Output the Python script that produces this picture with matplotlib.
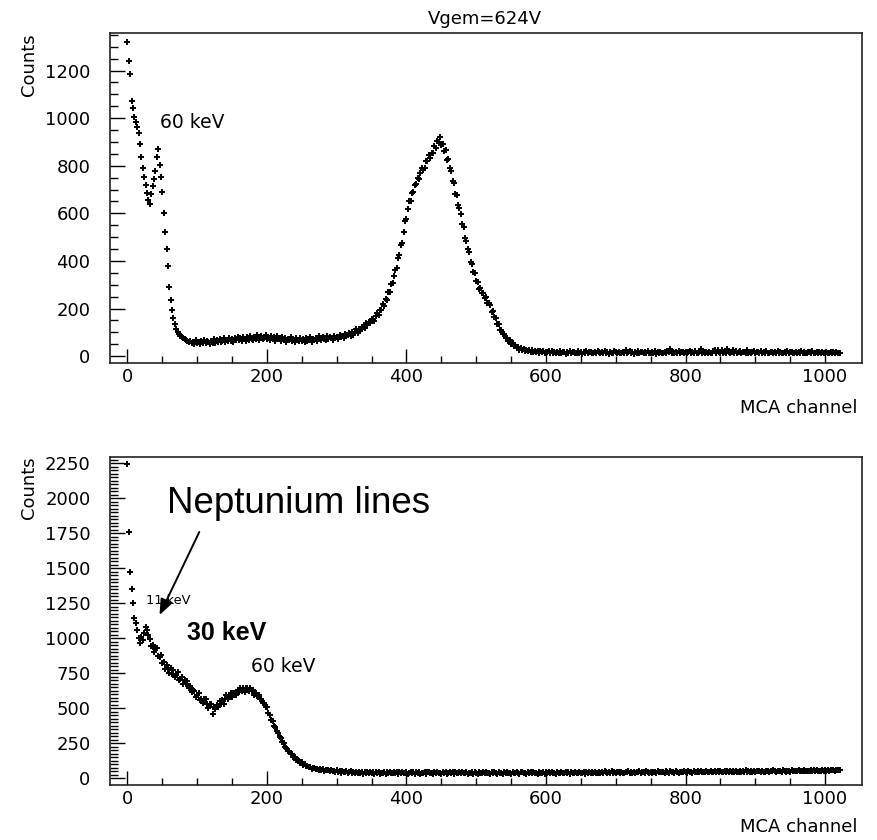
import numpy as np
import matplotlib
matplotlib.use("Agg")
import matplotlib.pyplot as plt
from matplotlib.ticker import FixedLocator

# MCA channel of each plotted bin (every second channel)
channels = np.arange(0, 1024, 2)

# Top panel (Vgem=624V) counts
top_counts = [
    1322, 1242, 1186, 1072, 1041, 1006, 985, 962, 936, 890, 835, 790, 752, 718, 685, 655,
    640, 680, 715, 745, 780, 838, 869, 803, 754, 690, 601, 520, 450, 380, 290, 236,
    193, 160, 135, 112, 100, 92, 86, 80, 74, 70, 66, 62, 58, 64, 55, 60,
    52, 66, 54, 61, 50, 63, 57, 68, 53, 62, 58, 49, 65, 56, 70, 54,
    66, 58, 72, 60, 64, 75, 59, 69, 62, 78, 64, 70, 58, 74, 67, 80,
    66, 76, 62, 82, 70, 64, 79, 68, 85, 71, 66, 80, 73, 88, 69, 77,
    83, 70, 78, 90, 72, 81, 67, 86, 74, 79, 65, 84, 71, 77, 62, 80,
    68, 76, 60, 73, 66, 81, 63, 70, 58, 75, 67, 62, 78, 64, 71, 59,
    74, 63, 69, 80, 61, 72, 67, 78, 64, 83, 70, 66, 79, 73, 68, 85,
    71, 80, 74, 69, 86, 77, 82, 72, 90, 79, 85, 76, 93, 84, 89, 98,
    86, 101, 90, 102, 112, 98, 115, 104, 124, 124, 119, 139, 129, 144, 139, 154,
    156, 148, 167, 180, 172, 195, 192, 220, 212, 239, 236, 268, 270, 303, 307, 337,
    360, 370, 414, 423, 468, 475, 523, 567, 575, 620, 652, 652, 686, 688, 720, 722,
    748, 743, 771, 790, 784, 789, 822, 818, 846, 834, 855, 852, 884, 876, 903, 900,
    922, 888, 893, 864, 865, 823, 830, 791, 780, 736, 726, 682, 678, 634, 621, 598,
    556, 544, 498, 485, 451, 439, 395, 388, 355, 348, 316, 310, 284, 287, 265, 266,
    245, 248, 223, 222, 214, 187, 188, 163, 162, 135, 133, 109, 111, 91, 91, 75,
    77, 62, 66, 50, 53, 41, 46, 34, 38, 27, 32, 24, 30, 22, 26, 21,
    26, 18, 24, 17, 22, 16, 23, 15, 20, 18, 22, 14, 19, 16, 21, 13,
    20, 13, 17, 11, 19, 15, 22, 12, 16, 18, 10, 17, 14, 21, 12, 16,
    19, 11, 15, 20, 13, 17, 10, 18, 14, 22, 12, 16, 19, 11, 15, 18,
    13, 20, 16, 11, 18, 14, 21, 12, 17, 10, 19, 15, 13, 20, 16, 12,
    18, 14, 11, 19, 15, 26, 12, 17, 20, 13, 16, 10, 18, 14, 21, 12,
    16, 19, 13, 17, 11, 20, 15, 12, 18, 14, 21, 10, 17, 15, 19, 13,
    15, 18, 12, 20, 16, 28, 13, 17, 11, 19, 14, 22, 12, 16, 18, 13,
    19, 12, 16, 21, 14, 17, 11, 20, 15, 13, 18, 30, 12, 17, 14, 19,
    13, 18, 15, 11, 20, 24, 14, 27, 16, 12, 25, 15, 19, 13, 29, 16,
    12, 18, 26, 14, 20, 11, 17, 22, 13, 16, 19, 12, 24, 15, 18, 11,
    17, 21, 13, 16, 19, 12, 22, 14, 18, 11, 20, 15, 13, 19, 16, 12,
    18, 14, 20, 12, 17, 15, 11, 19, 14, 21, 13, 16, 18, 12, 15, 19,
    13, 17, 15, 20, 12, 18, 14, 11, 19, 16, 13, 21, 15, 12, 17, 14,
    16, 12, 18, 14, 11, 17, 15, 13, 19, 12, 16, 14, 18, 11, 15, 13,
]

# Bottom panel counts
bottom_counts = [
    2243, 1761, 1471, 1350, 1250, 1147, 1107, 1059, 1000, 964, 1011, 985, 1040, 1078, 1060, 1022,
    995, 945, 950, 905, 925, 930, 875, 865, 880, 820, 830, 780, 810, 783, 752, 787,
    742, 770, 720, 740, 758, 705, 712, 725, 673, 700, 675, 695, 645, 658, 616, 629,
    627, 582, 597, 608, 560, 567, 535, 563, 566, 529, 502, 530, 534, 459, 512, 497,
    525, 507, 550, 533, 561, 534, 567, 595, 567, 584, 610, 581, 612, 612, 592, 632,
    617, 642, 621, 645, 618, 648, 645, 623, 646, 620, 630, 592, 609, 585, 593, 569,
    567, 538, 540, 510, 507, 467, 453, 419, 410, 375, 366, 336, 325, 294, 286, 259,
    250, 220, 215, 192, 198, 172, 172, 152, 155, 130, 133, 122, 106, 113, 95, 99,
    85, 91, 78, 83, 69, 76, 77, 63, 69, 60, 68, 57, 64, 52, 59, 60,
    60, 50, 59, 49, 53, 44, 56, 46, 51, 41, 52, 42, 46, 49, 40, 46,
    50, 40, 48, 38, 47, 36, 46, 40, 44, 34, 46, 38, 43, 35, 45, 37,
    44, 33, 42, 38, 46, 34, 41, 37, 45, 32, 43, 39, 47, 35, 40, 44,
    36, 45, 33, 42, 38, 47, 35, 41, 44, 32, 40, 46, 37, 43, 34, 42,
    39, 46, 33, 41, 37, 44, 32, 42, 47, 36, 40, 34, 45, 38, 43, 35,
    41, 34, 46, 38, 43, 32, 40, 45, 36, 42, 33, 47, 39, 35, 44, 37,
    42, 35, 40, 46, 33, 41, 37, 44, 34, 43, 39, 32, 45, 38, 36, 42,
    35, 44, 38, 41, 33, 46, 36, 42, 39, 34, 45, 37, 40, 33, 43, 38,
    44, 36, 41, 34, 47, 38, 35, 43, 39, 32, 42, 46, 37, 40, 34, 45,
    38, 42, 35, 46, 37, 41, 33, 44, 39, 36, 48, 34, 42, 38, 45, 36,
    43, 37, 40, 34, 46, 39, 36, 44, 41, 35, 47, 38, 42, 33, 45, 40,
    37, 44, 39, 35, 48, 41, 38, 45, 34, 43, 40, 47, 36, 42, 39, 46,
    41, 36, 47, 40, 44, 38, 49, 42, 37, 45, 40, 50, 39, 43, 36, 46,
    43, 38, 48, 41, 37, 46, 42, 50, 39, 44, 40, 47, 36, 45, 42, 49,
    40, 47, 43, 38, 51, 44, 41, 46, 39, 48, 43, 37, 50, 45, 42, 47,
    44, 40, 49, 45, 38, 52, 43, 47, 41, 50, 44, 39, 48, 46, 42, 51,
    45, 41, 50, 44, 48, 40, 53, 46, 43, 49, 45, 52, 42, 47, 44, 50,
    46, 42, 51, 47, 44, 53, 45, 49, 43, 52, 46, 48, 55, 44, 50, 47,
    52, 45, 49, 44, 54, 48, 46, 51, 43, 50, 47, 56, 45, 52, 48, 50,
    47, 53, 45, 51, 49, 55, 46, 52, 48, 44, 54, 50, 47, 53, 49, 56,
    50, 46, 55, 49, 52, 47, 57, 51, 48, 54, 50, 46, 56, 52, 49, 55,
    51, 57, 49, 54, 52, 58, 50, 55, 53, 49, 59, 52, 56, 50, 58, 54,
    55, 51, 59, 53, 57, 54, 60, 52, 58, 56, 61, 54, 59, 57, 62, 58,
]

x_ticks = [0, 200, 400, 600, 800, 1000]
top_y_ticks = [0, 200, 400, 600, 800, 1000, 1200]
bottom_y_ticks = [0, 250, 500, 750, 1000, 1250, 1500, 1750, 2000, 2250]

W, H = 878, 840
fig = plt.figure(figsize=(W / 100, H / 100), dpi=100)
ax1 = fig.add_axes([110 / W, 1 - 363 / H, 752 / W, 330 / H])
ax2 = fig.add_axes([110 / W, 1 - 785 / H, 752 / W, 328.3 / H])

ROOT_FONT = "DejaVu Sans"
FS = 13


def style(ax, counts, yticks, yminor_step, ylim):
    ax.plot(channels, counts, ls="none", marker="+", ms=4.6, mew=1.4,
            color="black")
    ax.set_xlim(-25, 1053)
    ax.set_ylim(*ylim)
    ax.set_xticks(x_ticks)
    ax.set_yticks(yticks)
    ax.xaxis.set_minor_locator(FixedLocator(np.arange(0, 1001, 50)))
    ax.yaxis.set_minor_locator(
        FixedLocator(np.arange(0, ylim[1], yminor_step)))
    ax.tick_params(which="both", direction="in", top=False, right=False,
                   width=1.0, color="black")
    ax.tick_params(axis="y", which="major", length=10.5, pad=14,
                   labelsize=FS)
    ax.tick_params(axis="y", which="minor", length=6)
    ax.tick_params(axis="x", which="major", length=10, pad=3.5,
                   labelsize=FS)
    ax.tick_params(axis="x", which="minor", length=5)
    for lab in ax.get_xticklabels() + ax.get_yticklabels():
        lab.set_fontfamily(ROOT_FONT)
    for sp in ax.spines.values():
        sp.set_linewidth(1.2)
        sp.set_color("#222222")


style(ax1, top_counts, top_y_ticks, 50, (-29, 1358))
style(ax2, bottom_counts, bottom_y_ticks, 25, (-48, 2297))

# ROOT-style titles
fig.text(485 / W, 1 - 18.5 / H, "Vgem=624V", ha="center", va="center",
         fontsize=FS, family=ROOT_FONT)
fig.text(29 / W, 1 - 33 / H, "Counts", rotation=90, ha="center", va="top",
         fontsize=FS, family=ROOT_FONT)
fig.text(29 / W, 1 - 456 / H, "Counts", rotation=90, ha="center", va="top",
         fontsize=FS, family=ROOT_FONT)
fig.text(858 / W, 1 - 408 / H, "MCA channel", ha="right", va="center",
         fontsize=FS, family=ROOT_FONT)
fig.text(858 / W, 1 - 827 / H, "MCA channel", ha="right", va="center",
         fontsize=FS, family=ROOT_FONT)

# Annotations
ax1.text(46, 980, "60 keV", ha="left", va="center", fontsize=13.5,
         family=ROOT_FONT)
ax2.text(177, 795, "60 keV", ha="left", va="center", fontsize=13.5,
         family=ROOT_FONT)
ax2.text(27, 1273, "11 keV", ha="left", va="center", fontsize=9.3,
         family=ROOT_FONT)
ax2.text(86, 1038, "30 keV", ha="left", va="center", fontsize=18,
         fontweight="bold", family="Liberation Sans")
ax2.text(57, 1966, "Neptunium lines", ha="left", va="center", fontsize=26.5,
         family="Liberation Sans")
ax2.annotate("", xy=(46, 1166), xytext=(103, 1759),
             arrowprops=dict(arrowstyle="-|>,head_length=0.5,head_width=0.2",
                             mutation_scale=19, lw=1.4, color="black",
                             shrinkA=0, shrinkB=0))

fig.savefig("out.png", dpi=100)
